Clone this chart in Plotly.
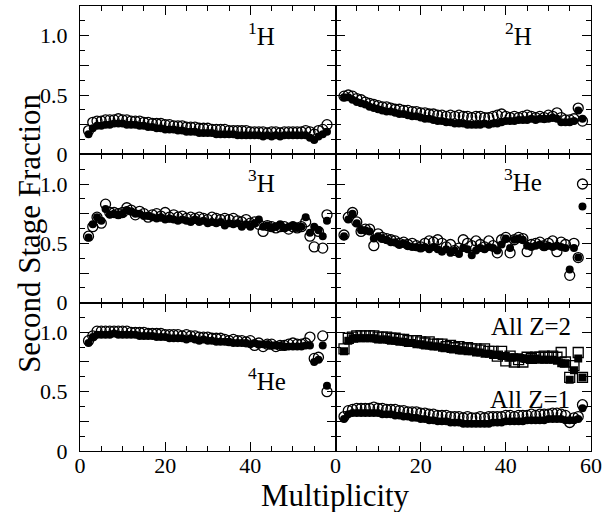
import plotly.graph_objects as go
from plotly.subplots import make_subplots

# Multiplicity values (x)
MULT = list(range(2, 59))

# ---- 1H ----
h1_open = [0.20, 0.27, 0.28, 0.28, 0.29, 0.29, 0.29, 0.30, 0.29, 0.29, 0.28, 0.28, 0.28, 0.27, 0.27,
           0.26, 0.26, 0.26, 0.25, 0.25, 0.24, 0.24, 0.24, 0.23, 0.23, 0.23, 0.22, 0.22, 0.22, 0.21,
           0.21, 0.21, 0.21, 0.20, 0.20, 0.20, 0.20, 0.20, 0.19, 0.19, 0.19, 0.19, 0.18, 0.19, 0.19,
           0.18, 0.19, 0.19, 0.19, 0.19, 0.19, 0.20, 0.19, 0.17, 0.20, 0.21, 0.25]
h1_fill = [0.17, 0.22, 0.24, 0.24, 0.25, 0.25, 0.26, 0.26, 0.26, 0.25, 0.25, 0.25, 0.24, 0.24, 0.23,
           0.23, 0.22, 0.22, 0.21, 0.21, 0.21, 0.20, 0.20, 0.19, 0.19, 0.19, 0.18, 0.18, 0.18, 0.18,
           0.17, 0.17, 0.17, 0.17, 0.17, 0.16, 0.16, 0.16, 0.16, 0.16, 0.16, 0.15, 0.16, 0.15, 0.16,
           0.15, 0.16, 0.16, 0.16, 0.16, 0.16, 0.16, 0.14, 0.12, 0.15, 0.17, 0.19]

# ---- 2H ----
h2_open = [0.49, 0.50, 0.49, 0.47, 0.46, 0.44, 0.43, 0.42, 0.41, 0.40, 0.40, 0.39, 0.38, 0.38, 0.37,
           0.37, 0.36, 0.36, 0.35, 0.35, 0.34, 0.34, 0.33, 0.33, 0.32, 0.33, 0.32, 0.33, 0.32, 0.32,
           0.31, 0.32, 0.32, 0.31, 0.31, 0.32, 0.33, 0.34, 0.32, 0.31, 0.32, 0.31, 0.32, 0.33, 0.32,
           0.31, 0.32, 0.31, 0.33, 0.32, 0.35, 0.31, 0.29, 0.29, 0.30, 0.39, 0.28]
h2_fill = [0.48, 0.48, 0.46, 0.44, 0.43, 0.42, 0.40, 0.39, 0.38, 0.37, 0.36, 0.36, 0.35, 0.34, 0.34,
           0.33, 0.32, 0.32, 0.31, 0.30, 0.30, 0.29, 0.28, 0.28, 0.27, 0.27, 0.26, 0.26, 0.26, 0.25,
           0.25, 0.25, 0.25, 0.26, 0.25, 0.26, 0.26, 0.27, 0.28, 0.28, 0.28, 0.29, 0.29, 0.29, 0.30,
           0.29, 0.30, 0.30, 0.30, 0.31, 0.30, 0.27, 0.27, 0.27, 0.28, 0.37, 0.30]

# ---- 3H ----
h3_open = [0.56, 0.64, 0.72, 0.67, 0.83, 0.76, 0.76, 0.75, 0.76, 0.80, 0.78, 0.74, 0.77, 0.75, 0.72,
           0.74, 0.75, 0.73, 0.76, 0.72, 0.74, 0.72, 0.73, 0.71, 0.72, 0.71, 0.72, 0.71, 0.70, 0.72,
           0.71, 0.70, 0.71, 0.70, 0.71, 0.69, 0.68, 0.70, 0.67, 0.68, 0.66, 0.60, 0.65, 0.64, 0.63,
           0.64, 0.64, 0.62, 0.64, 0.63, 0.64, 0.68, 0.56, 0.47, 0.60, 0.46, 0.74]
h3_fill = [0.55, 0.66, 0.72, 0.69, 0.79, 0.74, 0.75, 0.74, 0.75, 0.78, 0.77, 0.75, 0.75, 0.73, 0.73,
           0.72, 0.71, 0.72, 0.70, 0.71, 0.70, 0.69, 0.70, 0.69, 0.68, 0.70, 0.68, 0.69, 0.67, 0.68,
           0.67, 0.68, 0.65, 0.67, 0.66, 0.67, 0.64, 0.66, 0.64, 0.67, 0.70, 0.64, 0.65, 0.63, 0.64,
           0.66, 0.63, 0.64, 0.65, 0.63, 0.64, 0.72, 0.59, 0.64, 0.61, 0.56, 0.69]

# ---- 3He ----
he3_open = [0.57, 0.72, 0.76, 0.68, 0.60, 0.62, 0.62, 0.48, 0.58, 0.55, 0.54, 0.53, 0.52, 0.50, 0.51,
            0.49, 0.50, 0.48, 0.47, 0.50, 0.52, 0.51, 0.53, 0.50, 0.47, 0.49, 0.44, 0.46, 0.53, 0.50,
            0.48, 0.52, 0.49, 0.47, 0.52, 0.48, 0.42, 0.53, 0.55, 0.42, 0.53, 0.55, 0.54, 0.43, 0.49,
            0.50, 0.51, 0.48, 0.50, 0.52, 0.43, 0.51, 0.49, 0.23, 0.50, 0.38, 1.00]
he3_fill = [0.56, 0.70, 0.75, 0.67, 0.61, 0.61, 0.60, 0.54, 0.56, 0.54, 0.53, 0.51, 0.51, 0.49, 0.50,
            0.48, 0.47, 0.47, 0.46, 0.47, 0.45, 0.47, 0.45, 0.43, 0.45, 0.42, 0.44, 0.41, 0.46, 0.45,
            0.40, 0.44, 0.46, 0.45, 0.47, 0.46, 0.44, 0.49, 0.54, 0.46, 0.53, 0.54, 0.53, 0.48, 0.47,
            0.48, 0.49, 0.47, 0.48, 0.47, 0.48, 0.47, 0.46, 0.28, 0.46, 0.38, 0.81]

# ---- 4He ----
he4_open = [0.93, 0.97, 1.01, 1.01, 1.01, 1.01, 1.01, 1.01, 1.01, 1.01, 1.00, 1.00, 1.00, 1.00, 0.99,
            0.99, 0.99, 0.99, 0.98, 0.98, 0.98, 0.98, 0.97, 0.98, 0.97, 0.97, 0.96, 0.96, 0.96, 0.95,
            0.95, 0.95, 0.94, 0.93, 0.94, 0.93, 0.93, 0.92, 0.93, 0.89, 0.91, 0.88, 0.90, 0.90, 0.88,
            0.89, 0.89, 0.90, 0.91, 0.90, 0.90, 0.91, 0.96, 0.78, 0.79, 0.97, 0.50]
he4_fill = [0.91, 0.96, 0.98, 0.98, 0.98, 0.98, 0.99, 0.98, 0.98, 0.98, 0.98, 0.98, 0.97, 0.97, 0.97,
            0.97, 0.96, 0.96, 0.96, 0.95, 0.95, 0.95, 0.95, 0.94, 0.95, 0.94, 0.93, 0.94, 0.93, 0.93,
            0.92, 0.92, 0.92, 0.92, 0.91, 0.91, 0.91, 0.91, 0.90, 0.91, 0.90, 0.90, 0.90, 0.89, 0.89,
            0.89, 0.88, 0.88, 0.88, 0.88, 0.88, 0.89, 0.89, 0.75, 0.77, 0.89, 0.55]

# ---- All Z=2 (squares) ----
z2_open = [0.86, 0.95, 0.96, 0.97, 0.97, 0.97, 0.97, 0.97, 0.96, 0.96, 0.96, 0.95, 0.95, 0.94, 0.94,
           0.93, 0.93, 0.93, 0.92, 0.91, 0.92, 0.90, 0.90, 0.90, 0.88, 0.89, 0.87, 0.88, 0.86, 0.87,
           0.86, 0.86, 0.85, 0.86, 0.84, 0.84, 0.80, 0.84, 0.76, 0.80, 0.75, 0.77, 0.75, 0.79, 0.78,
           0.79, 0.79, 0.80, 0.79, 0.80, 0.79, 0.83, 0.75, 0.62, 0.72, 0.83, 0.62]
z2_fill = [0.84, 0.93, 0.95, 0.95, 0.95, 0.95, 0.95, 0.95, 0.94, 0.94, 0.94, 0.93, 0.93, 0.92, 0.92,
           0.91, 0.91, 0.90, 0.90, 0.89, 0.89, 0.88, 0.88, 0.87, 0.87, 0.86, 0.86, 0.85, 0.85, 0.84,
           0.84, 0.83, 0.83, 0.82, 0.82, 0.81, 0.81, 0.80, 0.80, 0.79, 0.79, 0.79, 0.78, 0.78, 0.78,
           0.78, 0.77, 0.77, 0.77, 0.77, 0.76, 0.74, 0.74, 0.60, 0.68, 0.78, 0.62]

# ---- All Z=1 (circles) ----
z1_open = [0.29, 0.34, 0.35, 0.36, 0.36, 0.36, 0.36, 0.37, 0.36, 0.36, 0.35, 0.35, 0.35, 0.34, 0.34,
           0.33, 0.33, 0.33, 0.32, 0.32, 0.31, 0.31, 0.30, 0.30, 0.30, 0.29, 0.29, 0.29, 0.28, 0.29,
           0.28, 0.28, 0.29, 0.28, 0.29, 0.29, 0.29, 0.29, 0.30, 0.30, 0.29, 0.30, 0.30, 0.30, 0.31,
           0.30, 0.31, 0.31, 0.31, 0.32, 0.32, 0.31, 0.30, 0.24, 0.28, 0.29, 0.39]
z1_fill = [0.27, 0.31, 0.32, 0.32, 0.32, 0.32, 0.32, 0.32, 0.32, 0.31, 0.31, 0.31, 0.30, 0.30, 0.29,
           0.29, 0.28, 0.28, 0.27, 0.27, 0.26, 0.26, 0.25, 0.25, 0.25, 0.24, 0.24, 0.24, 0.23, 0.23,
           0.23, 0.23, 0.23, 0.23, 0.23, 0.24, 0.24, 0.24, 0.25, 0.25, 0.25, 0.25, 0.25, 0.26, 0.26,
           0.26, 0.26, 0.26, 0.27, 0.27, 0.27, 0.27, 0.26, 0.26, 0.26, 0.27, 0.36]

X_TICKS = [0, 20, 40, 60]
X_TICKTEXT_LEFT = ["0", "20", "40", ""]
X_TICKTEXT_RIGHT = ["0", "20", "40", "60"]
Y_TICKS = [0, 0.25, 0.5, 0.75, 1.0]
Y_TICKTEXT = ["0", "", "0.5", "", "1.0"]

FONT = "Liberation Serif, Times New Roman, Times, serif"

fig = make_subplots(rows=3, cols=2, horizontal_spacing=0, vertical_spacing=0)

def add_pair(row, col, fill, opn, shape="circle"):
    fig.add_trace(go.Scatter(x=MULT, y=fill, mode="markers",
                             marker=dict(symbol=shape, size=8, color="black",
                                         line=dict(width=0)),
                             showlegend=False, hoverinfo="skip"), row=row, col=col)
    fig.add_trace(go.Scatter(x=MULT, y=opn, mode="markers",
                             marker=dict(symbol=shape + "-open", size=10, color="black",
                                         line=dict(width=1.3, color="black")),
                             showlegend=False, hoverinfo="skip"), row=row, col=col)

add_pair(1, 1, h1_fill, h1_open)
add_pair(1, 2, h2_fill, h2_open)
add_pair(2, 1, h3_fill, h3_open)
add_pair(2, 2, he3_fill, he3_open)
add_pair(3, 1, he4_fill, he4_open)
add_pair(3, 2, z2_fill, z2_open, shape="square")
add_pair(3, 2, z1_fill, z1_open)

for r in (1, 2, 3):
    for c in (1, 2):
        show_x = (r == 3)
        fig.update_xaxes(
            range=[0, 60], tickvals=X_TICKS,
            ticktext=(X_TICKTEXT_LEFT if c == 1 else X_TICKTEXT_RIGHT),
            showticklabels=show_x,
            ticks="inside", ticklen=9, tickwidth=1, tickcolor="black",
            minor=dict(ticks="inside", dtick=5, ticklen=5, tickwidth=1, tickcolor="black"),
            showline=True, linecolor="black", linewidth=1, mirror="ticks",
            showgrid=False, zeroline=False,
            tickfont=dict(family=FONT, size=22, color="black"),
            ticklabelstandoff=-5,
            row=r, col=c)
        fig.update_yaxes(
            range=[0, 1.25], tickvals=Y_TICKS, ticktext=Y_TICKTEXT,
            showticklabels=(c == 1),
            ticks="inside", ticklen=9, tickwidth=1, tickcolor="black",
            minor=dict(ticks="inside", dtick=0.125, tick0=0, ticklen=5, tickwidth=1, tickcolor="black"),
            showline=True, linecolor="black", linewidth=1, mirror="ticks",
            showgrid=False, zeroline=False,
            tickfont=dict(family=FONT, size=22, color="black"),
            ticklabelstandoff=7,
            row=r, col=c)

labels = [
    (1, 1, "<sup>1</sup>H", 46.3, 1.01),
    (1, 2, "<sup>2</sup>H", 46.5, 1.01),
    (2, 1, "<sup>3</sup>H", 46.3, 1.025),
    (2, 2, "<sup>3</sup>He", 49.0, 1.03),
    (3, 1, "<sup>4</sup>He", 48.8, 0.61),
    (3, 2, "All Z=2", 55.8, 1.046),
    (3, 2, "All Z=1", 55.6, 0.437),
]
for r, c, txt, xv, yv in labels:
    idx = (r - 1) * 2 + c
    sfx = "" if idx == 1 else str(idx)
    fig.add_annotation(x=xv, y=yv, xref="x" + sfx, yref="y" + sfx, text=txt,
                       showarrow=False, xanchor="right", yanchor="middle",
                       font=dict(family=FONT, size=25, color="black"))

fig.add_annotation(x=0.5, y=-0.100, xref="paper", yref="paper", text="Multiplicity",
                   showarrow=False, xanchor="center", yanchor="middle",
                   font=dict(family=FONT, size=31, color="black"))
fig.add_annotation(x=-0.098, y=0.49, xref="paper", yref="paper", text="Second Stage Fraction",
                   showarrow=False, xanchor="center", yanchor="middle", textangle=-90,
                   font=dict(family=FONT, size=31, color="black"))

fig.update_layout(width=607, height=512, margin=dict(l=80, r=11, t=5, b=61),
                  paper_bgcolor="white", plot_bgcolor="white")

fig.write_html("out.html")
